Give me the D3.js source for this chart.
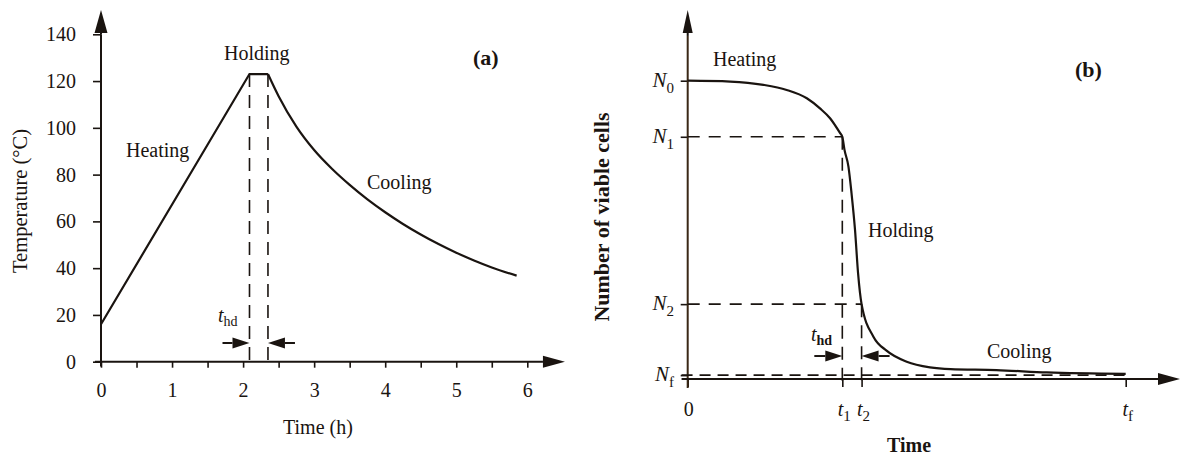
<!DOCTYPE html>
<html>
<head>
<meta charset="utf-8">
<script src="https://cdnjs.cloudflare.com/ajax/libs/d3/7.8.5/d3.min.js"></script>
<style>
  body { margin: 0; background: #fff; }
  svg text { font-family: "Liberation Serif", "Times New Roman", serif; fill: #1a1410; }
</style>
</head>
<body>
<div class="canvas"></div>
<script>
// ---- panel (a): temperature history ----
const heatTime = [0, 2.09, 2.35];
const heatTemp = [16, 123, 123];
const coolTime = [2.35, 2.5, 2.75, 3, 3.25, 3.5, 3.75, 4, 4.25, 4.5, 4.75, 5, 5.25, 5.5, 5.85];
const coolTemp = [123, 113.5, 100.5, 90.5, 82.5, 75.6, 69.4, 63.9, 58.9, 54.4, 50.3, 46.6, 43.3, 40.3, 36.8];
const tempTicks = [0, 20, 40, 60, 80, 100, 120, 140];
const timeTicks = [0, 0.5, 1, 1.5, 2, 2.5, 3, 3.5, 4, 4.5, 5, 5.5, 6];
const holdStart = 2.09, holdEnd = 2.35;

// ---- panel (b): number of viable cells (arbitrary units) ----
const cellTime = [0, 0.97, 1.73, 2.26, 2.72, 3.02, 3.25, 3.48, 3.53, 3.58, 3.67, 3.74, 3.82, 3.89, 3.97, 4.24, 4.54, 5.0, 5.53, 6.0, 7.05, 8.2, 10];
const cellCount = [10, 9.97, 9.86, 9.69, 9.41, 9.07, 8.74, 8.24, 8.12, 7.68, 7.12, 6.23, 5.0, 3.54, 2.51, 1.42, 0.95, 0.58, 0.39, 0.33, 0.30, 0.22, 0.17];
const levelSubs = ['0', '1', '2', 'f'];
const levelValues = [10, 8.12, 2.51, 0.13];
const markMain = ['0', 't', 't', 't'];
const markSubs = ['', '1', '2', 'f'];
const markTimes = [0, 3.53, 3.97, 10];

const ink = '#1a1410';
const serif = '"Liberation Serif", "Times New Roman", serif';

const svg = d3.select('.canvas')
  .append('svg')
  .attr('width', 1186)
  .attr('height', 457);

// filled arrow: tail (x1,y1) -> tip (x2,y2)
const arrow = (g, x1, y1, x2, y2, len, half) => {
  const a = Math.atan2(y2 - y1, x2 - x1);
  const bx = x2 - len * Math.cos(a), by = y2 - len * Math.sin(a);
  g.append('line')
    .attr('x1', x1).attr('y1', y1).attr('x2', bx).attr('y2', by)
    .attr('stroke', ink).attr('stroke-width', 2);
  const px = -Math.sin(a) * half, py = Math.cos(a) * half;
  g.append('path')
    .attr('d', `M${x2},${y2}L${bx + px},${by + py}L${bx - px},${by - py}Z`)
    .attr('fill', ink);
};

const label = (g, x, y, txt, opts = {}) => g.append('text')
  .attr('x', x).attr('y', y)
  .attr('font-size', opts.size || 20)
  .attr('font-weight', opts.bold ? 'bold' : null)
  .attr('text-anchor', opts.anchor || 'start')
  .text(txt);

const styleAxis = g => {
  g.select('.domain').remove();
  g.attr('font-family', serif).attr('font-size', 20);
  g.selectAll('line').attr('stroke', ink).attr('stroke-width', 1.6);
  g.selectAll('text').attr('fill', ink);
};

// =================== PANEL A ===================
const xa = d3.scaleLinear().domain([0, 6]).range([101, 527.3]);
const ya = d3.scaleLinear().domain([0, 140]).range([361.7, 34.3]);
const ga = svg.append('g');

ga.append('g')
  .attr('transform', `translate(0,${ya(0)})`)
  .call(d3.axisBottom(xa).tickValues(timeTicks).tickSize(6).tickPadding(15)
    .tickFormat(d => Number.isInteger(d) ? d : ''))
  .call(styleAxis);

ga.append('g')
  .attr('transform', `translate(${xa(0)},0)`)
  .call(d3.axisLeft(ya).tickValues(tempTicks).tickSize(8).tickPadding(17))
  .call(styleAxis);

// axis lines with arrow heads
ga.append('line')
  .attr('x1', xa(0)).attr('y1', ya(-2)).attr('x2', xa(0)).attr('y2', ya(140))
  .attr('stroke', ink).attr('stroke-width', 2);
arrow(ga, xa(0), ya(140), xa(0), ya(150.4), 23, 6.5);
arrow(ga, xa(-0.085), ya(0), xa(6.53), ya(0), 22, 6);

// temperature curve
const lineA = d3.line().x(d => xa(d[0])).y(d => ya(d[1]));
ga.append('path')
  .attr('d', lineA(d3.zip(heatTime, heatTemp)))
  .attr('fill', 'none').attr('stroke', ink).attr('stroke-width', 2.2);
ga.append('path')
  .attr('d', lineA.curve(d3.curveMonotoneX)(d3.zip(coolTime, coolTemp)))
  .attr('fill', 'none').attr('stroke', ink).attr('stroke-width', 2.2);

// holding period markers
[holdStart, holdEnd].forEach(t => {
  ga.append('line')
    .attr('x1', xa(t)).attr('x2', xa(t))
    .attr('y1', ya(heatTemp[1])).attr('y2', ya(0) + 2)
    .attr('stroke', ink).attr('stroke-width', 1.6)
    .attr('stroke-dasharray', '13,8');
});
arrow(ga, xa(holdStart) - 27, ya(8), xa(holdStart), ya(8), 17, 5.5);
arrow(ga, xa(holdEnd) + 27, ya(8), xa(holdEnd), ya(8), 17, 5.5);

const thdA = ga.append('text').attr('x', 218).attr('y', 322).attr('font-size', 20);
thdA.append('tspan').attr('font-style', 'italic').text('t');
thdA.append('tspan').attr('font-size', 14).attr('dy', 4).text('hd');

label(ga, 126, 157, 'Heating');
label(ga, 224, 60, 'Holding');
label(ga, 367, 189, 'Cooling');
label(ga, 473, 65, '(a)', { bold: true, size: 22 });
label(ga, 283, 434, 'Time (h)');
ga.append('text')
  .attr('transform', `translate(27,${201}) rotate(-90)`)
  .attr('text-anchor', 'middle')
  .attr('font-size', 20.5)
  .text('Temperature (°C)');

// =================== PANEL B ===================
const xb = d3.scaleLinear().domain([0, 10]).range([687.7, 1125.7]);
const yb = d3.scaleLinear().domain([0, 10]).range([379, 80.7]);
const gb = svg.append('g');

gb.append('g')
  .attr('transform', `translate(0,${yb(0)})`)
  .call(d3.axisBottom(xb).tickValues(markTimes).tickSize(8).tickFormat(''))
  .call(styleAxis);

gb.append('g')
  .attr('transform', `translate(${xb(0)},0)`)
  .call(d3.axisLeft(yb).tickValues(levelValues).tickSize(7).tickFormat(''))
  .call(styleAxis);

gb.append('line')
  .attr('x1', xb(0)).attr('y1', yb(-0.3)).attr('x2', xb(0)).attr('y2', yb(11.5))
  .attr('stroke', '#3a2816').attr('stroke-width', 2);
arrow(gb, xb(0), yb(11.5), xb(0), yb(12.37), 23, 5);
arrow(gb, xb(-0.14), yb(0), xb(11.24), yb(0), 22, 6);

// dashed reference lines
const dash = (x1, y1, x2, y2, pat) => gb.append('line')
  .attr('x1', x1).attr('y1', y1).attr('x2', x2).attr('y2', y2)
  .attr('stroke', ink).attr('stroke-width', 1.6)
  .attr('stroke-dasharray', pat);
dash(xb(0), yb(levelValues[1]), xb(markTimes[1]), yb(levelValues[1]), '12,9');
dash(xb(0), yb(levelValues[2]), xb(markTimes[2]), yb(levelValues[2]), '12,9');
dash(xb(-0.14), yb(levelValues[3]), xb(markTimes[3]), yb(levelValues[3]), '11,7');
dash(xb(markTimes[1]), yb(levelValues[1]), xb(markTimes[1]), yb(0) + 8, '13,8');
dash(xb(markTimes[2]), yb(levelValues[2]), xb(markTimes[2]), yb(0) + 8, '13,8');

// survivor curve
const lineB = d3.line().x(d => xb(d[0])).y(d => yb(d[1])).curve(d3.curveMonotoneX);
gb.append('path')
  .attr('d', lineB(d3.zip(cellTime, cellCount)))
  .attr('fill', 'none').attr('stroke', ink).attr('stroke-width', 2.2);

// holding period arrows
arrow(gb, xb(markTimes[1]) - 28, yb(0.77), xb(markTimes[1]), yb(0.77), 17, 5.5);
arrow(gb, xb(markTimes[2]) + 28, yb(0.77), xb(markTimes[2]), yb(0.77), 17, 5.5);

const thdB = gb.append('text').attr('x', 811).attr('y', 341).attr('font-size', 20);
thdB.append('tspan').attr('font-style', 'italic').text('t');
thdB.append('tspan').attr('font-size', 14).attr('font-weight', 'bold').attr('dy', 4).text('hd');

// N level labels
levelValues.forEach((v, i) => {
  const t = gb.append('text')
    .attr('x', 674).attr('y', yb(v) + 6)
    .attr('text-anchor', 'end')
    .attr('font-size', 21);
  t.append('tspan').attr('font-style', 'italic').text('N');
  t.append('tspan').attr('font-size', 15).attr('dy', 6).text(levelSubs[i]);
});

// time mark labels
markTimes.forEach((v, i) => {
  const t = gb.append('text')
    .attr('x', xb(v) + (i ? 2 : 1)).attr('y', 416)
    .attr('text-anchor', 'middle')
    .attr('font-size', 20);
  t.append('tspan').attr('font-style', i ? 'italic' : null).text(markMain[i]);
  if (markSubs[i]) t.append('tspan').attr('font-size', 15).attr('dy', 5).text(markSubs[i]);
});

label(gb, 713, 66, 'Heating');
label(gb, 868, 237, 'Holding');
label(gb, 987, 358, 'Cooling');
label(gb, 1075, 77, '(b)', { bold: true, size: 22 });
label(gb, 887, 452, 'Time', { bold: true });
gb.append('text')
  .attr('transform', `translate(609,${217}) rotate(-90)`)
  .attr('text-anchor', 'middle')
  .attr('font-size', 22)
  .attr('font-weight', 'bold')
  .text('Number of viable cells');
</script>
</body>
</html>
